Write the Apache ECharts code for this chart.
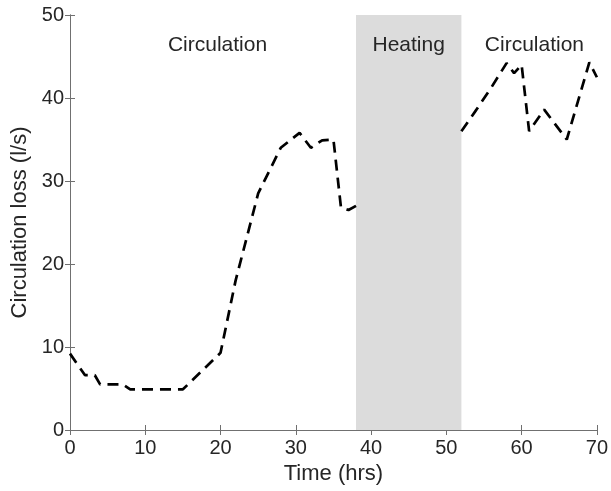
<!DOCTYPE html>
<html>
<head>
<meta charset="utf-8">
<script src="https://cdn.jsdelivr.net/npm/echarts@6/dist/echarts.min.js"></script>
<style>html,body{margin:0;padding:0;background:#fff;}#c{width:611px;height:491px;}</style>
</head>
<body>
<div id="c"></div>
<script>
// Circulation period 1 (hrs, l/s)
var circ1X = [0, 2, 3.3, 4, 7, 8, 15, 20, 22, 25, 28, 30.5, 32, 33.5, 35, 36, 37, 38];
var circ1Y = [9.2, 6.6, 6.6, 5.5, 5.5, 4.9, 4.9, 9.3, 18, 28.5, 34, 35.8, 34, 34.9, 35, 26.8, 26.5, 27];
// Circulation period 2
var circ2X = [52, 54, 56, 58, 59, 60, 61, 63, 66, 69, 70];
var circ2Y = [36, 38.6, 41.3, 44.2, 43, 44, 36, 38.6, 35, 44.3, 42.5];
// Heating period
var heatStart = 38, heatEnd = 52;
// Annotations
var annText = ['Circulation', 'Heating', 'Circulation'];
var annX = [19.6, 45, 61.7];
var annY = [46.4, 46.4, 46.4];
var xTicks = [0, 10, 20, 30, 40, 50, 60, 70];
var yTicks = [0, 10, 20, 30, 40, 50];

function pairs(xs, ys){ return xs.map(function(x,i){ return [x, ys[i]]; }); }

var txt = '#262626';
var axc = '#707070';
var font = 'Liberation Sans, Arial, sans-serif';

var chart = echarts.init(document.getElementById('c'));
var baseAxis = {
  type: 'value', interval: 10,
  axisLine: {show: true, lineStyle: {color: axc, width: 1}},
  axisTick: {show: true, inside: true, length: 5, lineStyle: {color: axc}},
  splitLine: {show: false},
  axisLabel: {color: txt, fontSize: 20, fontFamily: font}
};
chart.setOption({
  animation: false,
  backgroundColor: '#fff',
  grid: {left: 70, right: 13, top: 15, bottom: 61},
  xAxis: [
    Object.assign({}, baseAxis, {min: 0, max: 70, position: 'bottom',
      name: 'Time (hrs)', nameLocation: 'middle', nameGap: 32,
      nameTextStyle: {color: txt, fontSize: 22, fontFamily: font},
      axisLabel: {color: txt, fontSize: 20, fontFamily: font, margin: 8}}),
    Object.assign({}, baseAxis, {min: 0, max: 70, position: 'top', axisLabel: {show: false}})
  ],
  yAxis: [
    Object.assign({}, baseAxis, {min: 0, max: 50, position: 'left',
      name: 'Circulation loss (l/s)', nameLocation: 'middle', nameGap: 33,
      nameTextStyle: {color: txt, fontSize: 22, fontFamily: font},
      axisLabel: {color: txt, fontSize: 20, fontFamily: font, margin: 6}}),
    Object.assign({}, baseAxis, {min: 0, max: 50, position: 'right', axisLabel: {show: false}})
  ],
  series: [
    {
      type: 'line', data: pairs(circ1X, circ1Y), symbol: 'none', z: 5,
      lineStyle: {color: '#000', width: 2.7, type: [11, 7], cap: 'butt'},
      markArea: {silent: true, itemStyle: {color: '#dcdcdc'}, data: [[{xAxis: heatStart}, {xAxis: heatEnd}]]}
    },
    {
      type: 'line', data: pairs(circ2X, circ2Y), symbol: 'none', z: 5,
      lineStyle: {color: '#000', width: 2.7, type: [11, 7], cap: 'butt'}
    }
  ]
});
chart.setOption({
  graphic: annText.map(function(t, i){
    var p = chart.convertToPixel({gridIndex: 0}, [annX[i], annY[i]]);
    return {type: 'text', x: p[0], y: p[1], z: 100,
      style: {text: t, fill: txt, fontSize: 21, fontFamily: font, textAlign: 'center', textVerticalAlign: 'middle'}};
  })
});
</script>
</body>
</html>
